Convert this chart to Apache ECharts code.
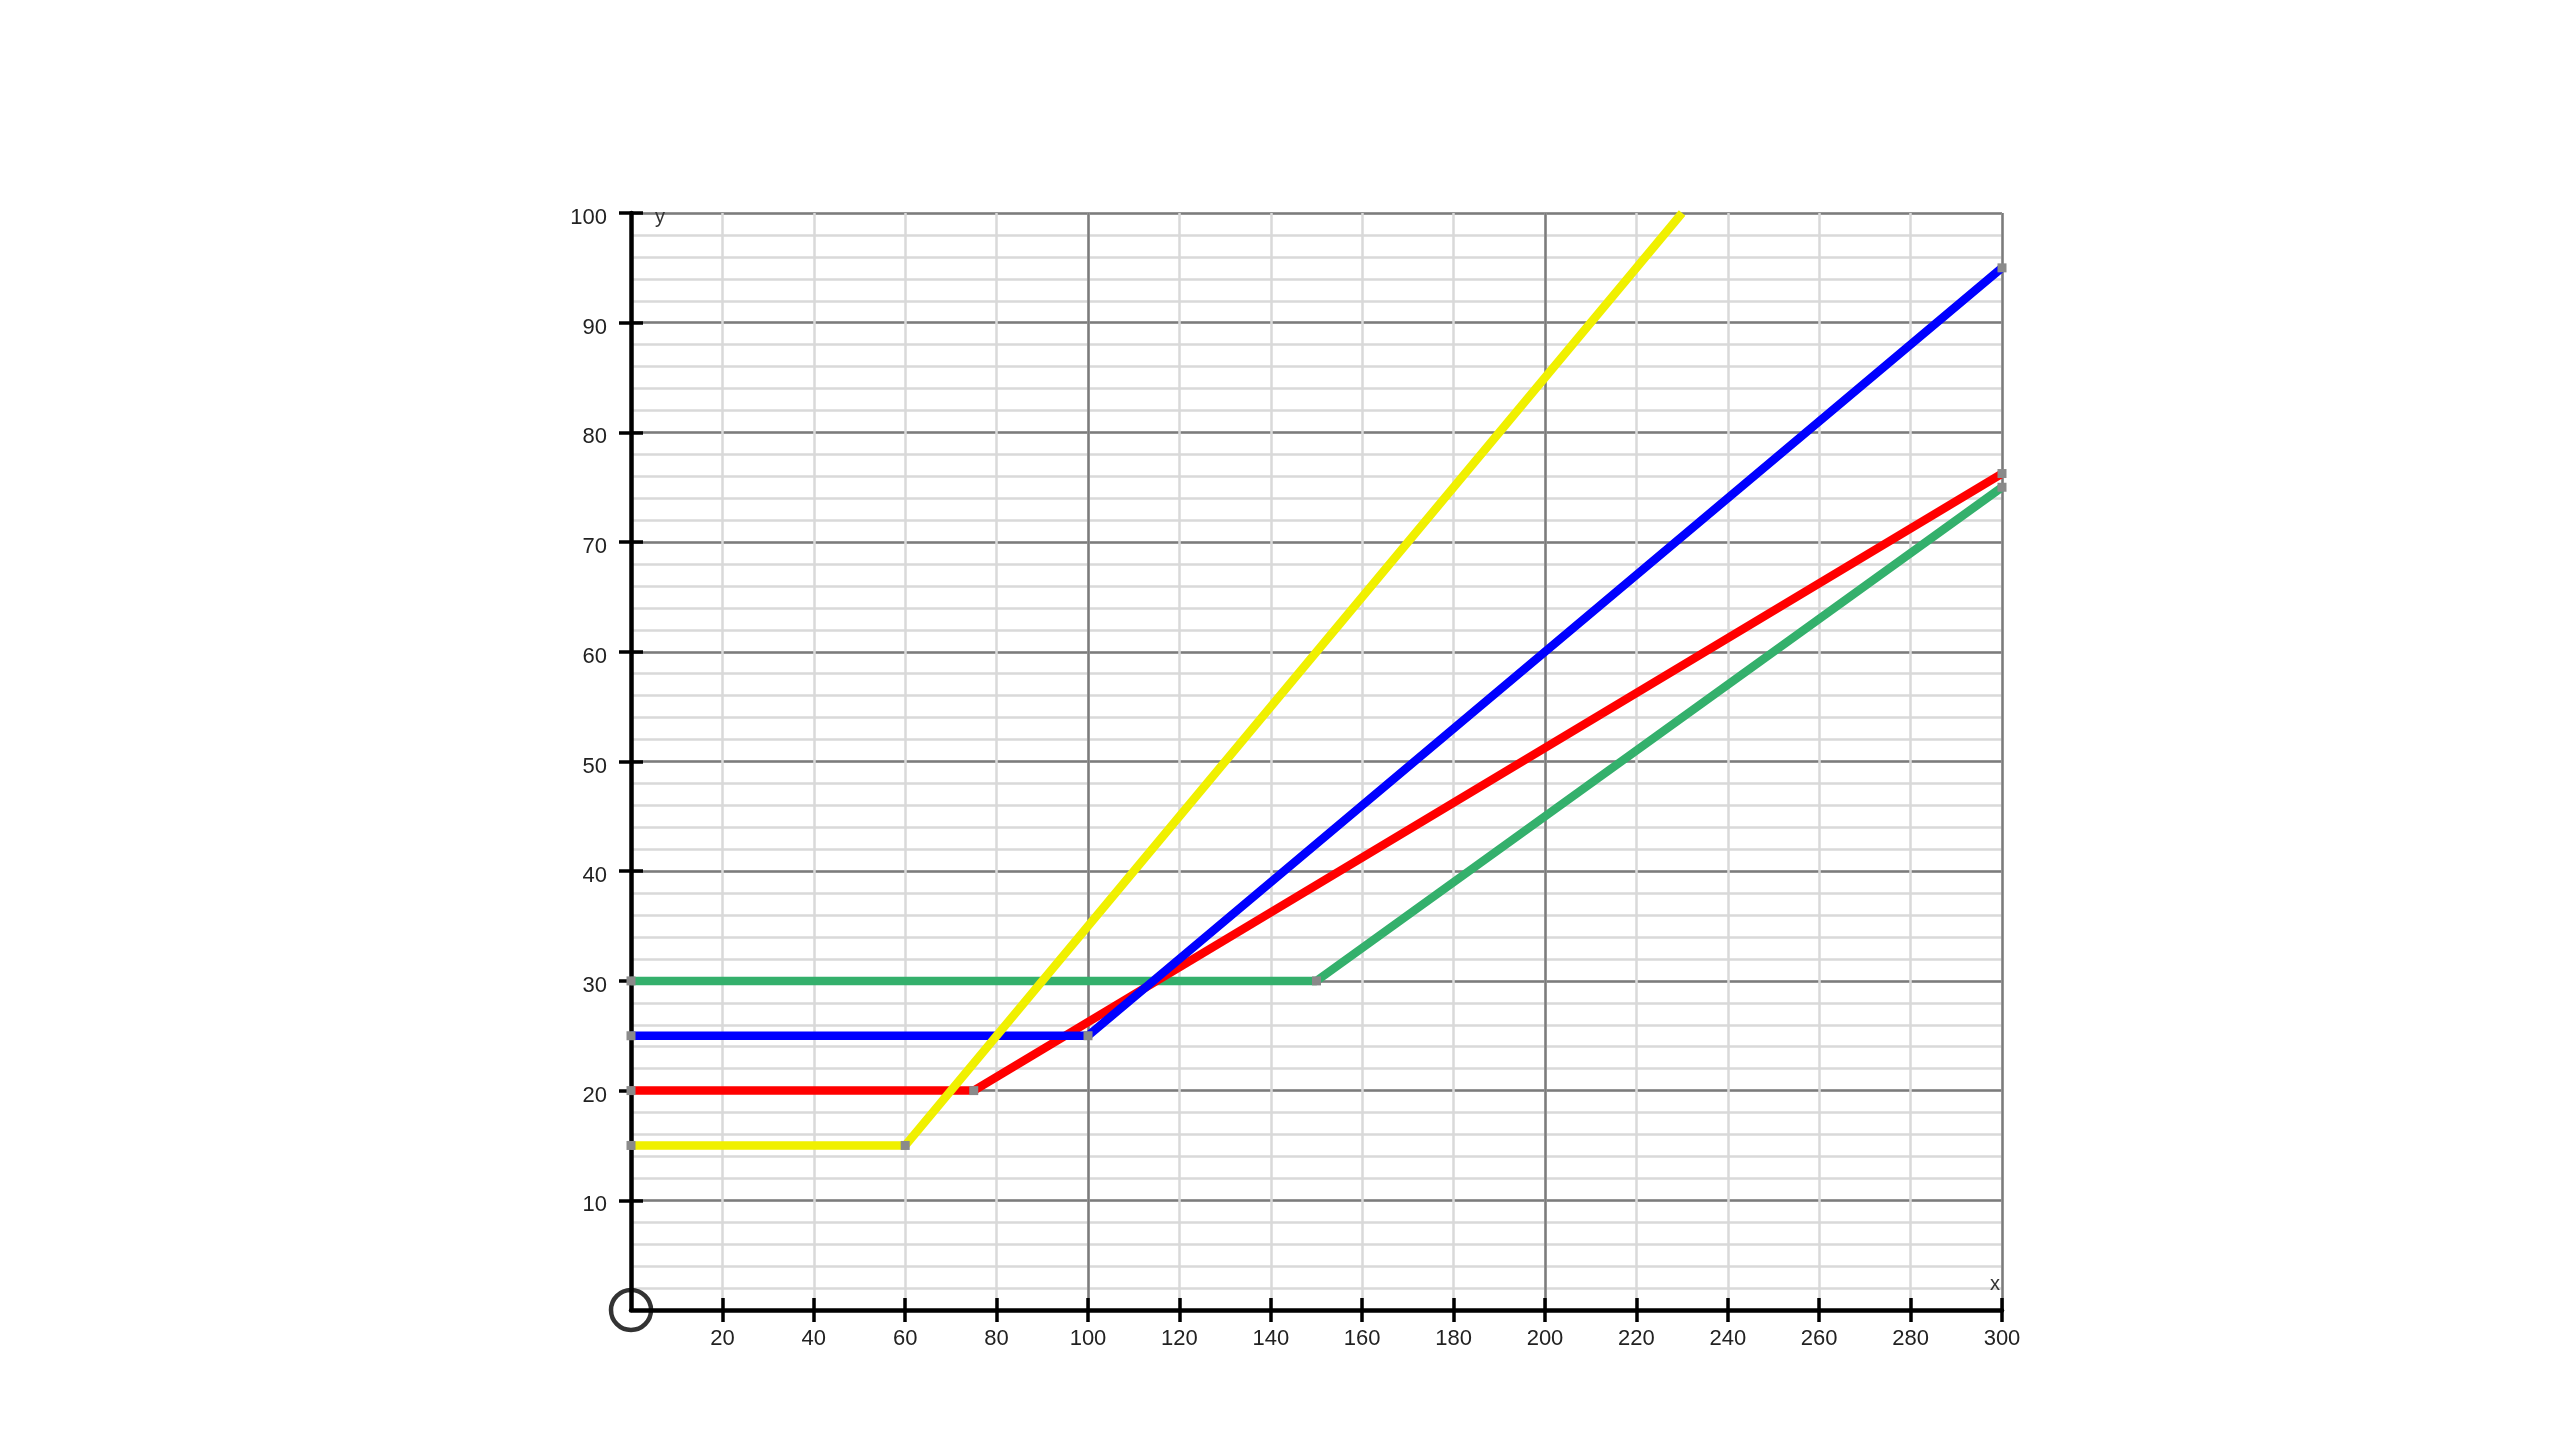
<!DOCTYPE html>
<html>
<head>
<meta charset="utf-8">
<script src="https://cdn.jsdelivr.net/npm/echarts@6/dist/echarts.min.js"></script>
<style>html,body{margin:0;padding:0;background:#fff}#c{width:2560px;height:1440px}</style>
</head>
<body>
<div id="c"></div>
<script>
// Data: breakpoints of each piecewise-linear series
const yellowX = [0, 60, 230];
const yellowY = [15, 15, 100];
const blueX = [0, 100, 300];
const blueY = [25, 25, 95];
const redX = [0, 75, 300];
const redY = [20, 20, 76.25];
const greenX = [0, 150, 300];
const greenY = [30, 30, 75];
const xTickLabels = [20, 40, 60, 80, 100, 120, 140, 160, 180, 200, 220, 240, 260, 280, 300];
const yTickLabels = [10, 20, 30, 40, 50, 60, 70, 80, 90, 100];

const FONT = "'Liberation Sans', Arial, Helvetica, sans-serif";
const gridRect = { left: 631, top: 213, width: 1371, height: 1097 };
const grids = [0, 1, 2, 3].map(() => Object.assign({}, gridRect, { containLabel: false }));

function pairs(xs, ys, lastNoSymbol) {
  return xs.map((x, i) => {
    if (lastNoSymbol && i === xs.length - 1) return { value: [x, ys[i]], symbol: 'none' };
    return [x, ys[i]];
  });
}

function hiddenAxis(extra) {
  return Object.assign({
    type: 'value', axisLine: { show: false }, axisTick: { show: false },
    axisLabel: { show: false }, splitLine: { show: false }
  }, extra);
}

const xAxes = [
  hiddenAxis({ gridIndex: 0, min: 0, max: 300, interval: 20,
    splitLine: { show: true, lineStyle: { color: '#d9d9d9', width: 2.5 } } }),
  hiddenAxis({ gridIndex: 1, min: 0, max: 300, interval: 100,
    splitLine: { show: true, lineStyle: { color: '#7c7c7c', width: 2.5 } } }),
  {
    type: 'value', gridIndex: 2, min: 0, max: 300, interval: 20,
    name: 'x', nameLocation: 'end', nameGap: -2,
    nameTextStyle: { fontFamily: FONT, fontSize: 20, color: '#333', align: 'right', verticalAlign: 'bottom', padding: [0, 0, 16, 0] },
    axisLine: { show: true, lineStyle: { color: '#000', width: 4.5 } },
    axisTick: { show: true, inside: false, length: 12, customValues: xTickLabels, lineStyle: { color: '#000', width: 3.5 } },
    axisLabel: { show: true, customValues: xTickLabels, margin: 18, fontFamily: FONT, fontSize: 22, color: '#222' },
    splitLine: { show: false }
  },
  hiddenAxis({ gridIndex: 3, min: 0, max: 300, interval: 20,
    axisTick: { show: true, inside: true, length: 12, customValues: xTickLabels, lineStyle: { color: '#000', width: 3.5 } } })
];

const yAxes = [
  hiddenAxis({ gridIndex: 0, min: 0, max: 100, interval: 2,
    splitLine: { show: true, lineStyle: { color: '#d9d9d9', width: 2.5 } } }),
  hiddenAxis({ gridIndex: 1, min: 0, max: 100, interval: 10,
    splitLine: { show: true, lineStyle: { color: '#7c7c7c', width: 2.5 } } }),
  {
    type: 'value', gridIndex: 2, min: 0, max: 100, interval: 10,
    name: 'y', nameLocation: 'end', nameGap: 6,
    nameTextStyle: { fontFamily: FONT, fontSize: 20, color: '#333', align: 'left', verticalAlign: 'top', padding: [0, 0, 0, 24] },
    axisLine: { show: true, lineStyle: { color: '#000', width: 4.5 } },
    axisTick: { show: true, inside: false, length: 12, customValues: yTickLabels, lineStyle: { color: '#000', width: 3.5 } },
    axisLabel: { show: true, customValues: yTickLabels, margin: 24, fontFamily: FONT, fontSize: 22, color: '#222', verticalAlign: 'top', lineHeight: 10 },
    splitLine: { show: false }
  },
  hiddenAxis({ gridIndex: 3, min: 0, max: 100, interval: 10,
    axisTick: { show: true, inside: true, length: 12, customValues: yTickLabels, lineStyle: { color: '#000', width: 3.5 } } })
];

function lineSeries(name, color, data) {
  return {
    name, type: 'line', xAxisIndex: 2, yAxisIndex: 2, data,
    symbol: 'rect', symbolSize: 9, showSymbol: true,
    itemStyle: { color: '#8a8a8a' },
    lineStyle: { color, width: 8.5 },
    emphasis: { disabled: true }, animation: false, z: 3
  };
}

const chart = echarts.init(document.getElementById('c'), null, { renderer: 'canvas' });
chart.setOption({
  backgroundColor: '#ffffff',
  animation: false,
  grid: grids,
  xAxis: xAxes,
  yAxis: yAxes,
  series: [
    lineSeries('green', '#34b06c', pairs(greenX, greenY)),
    lineSeries('red', '#ff0000', pairs(redX, redY)),
    lineSeries('blue', '#0000ff', pairs(blueX, blueY)),
    lineSeries('yellow', '#f0f000', pairs(yellowX, yellowY, true)),
    {
      type: 'scatter', xAxisIndex: 2, yAxisIndex: 2, data: [[0, 0]],
      symbol: 'circle', symbolSize: 40, clip: false, z: 10,
      itemStyle: { color: 'rgba(0,0,0,0)', borderColor: '#000', borderWidth: 4.5 },
      emphasis: { disabled: true }, silent: true
    }
  ]
});
</script>
</body>
</html>
